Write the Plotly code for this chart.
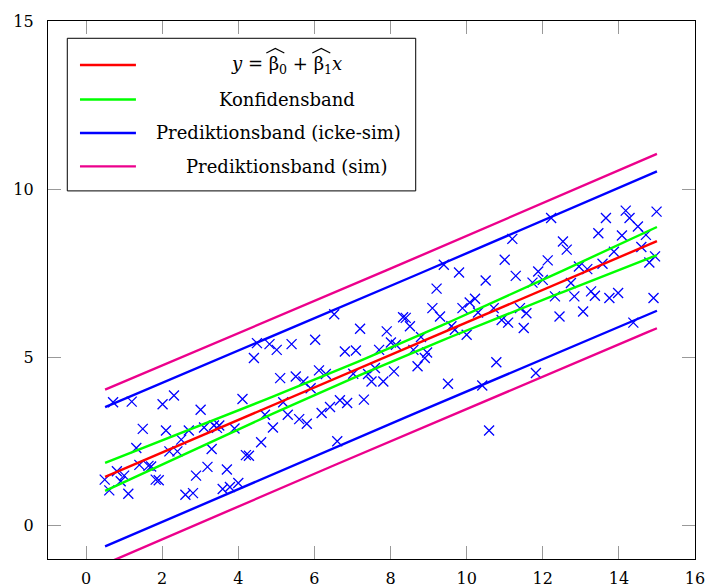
import numpy as np
import plotly.graph_objects as go

# ---- data ----
x_data = [0.71, 1.20, 2.01, 2.31, 4.11, 3.01, 1.49, 2.10, 2.70, 2.50, 3.10, 3.36, 3.50, 3.44, 3.90,
          1.32, 2.19, 2.40, 3.30, 4.20, 4.28, 1.40, 1.64, 1.71, 3.19, 3.70, 2.89, 0.49, 0.81, 1.00,
          0.91, 1.83, 1.91, 0.61, 1.11, 2.61, 2.81, 3.59, 3.78, 4.00, 6.52, 7.20, 7.90, 8.01, 8.33,
          8.40, 4.49, 4.82, 5.01, 5.40, 6.02, 4.41, 6.80, 7.09, 7.70, 5.10, 5.51, 5.71, 5.90, 6.12,
          6.30, 7.02, 7.41, 7.50, 7.81, 7.59, 8.09, 5.18, 4.70, 5.30, 5.60, 5.80, 4.91, 6.19, 6.41,
          6.67, 6.86, 7.30, 4.60, 6.60, 11.20, 11.00, 9.40, 9.80, 10.50, 11.29, 11.73, 11.88, 9.21,
          9.10, 9.30, 9.89, 10.08, 10.22, 10.30, 10.71, 11.40, 11.57, 8.51, 10.92, 11.09, 11.50,
          9.60, 9.69, 10.00, 8.80, 8.14, 8.60, 8.96, 8.90, 8.71, 10.78, 11.82, 9.51, 10.41, 10.59,
          12.22, 13.66, 14.18, 14.28, 14.50, 14.99, 13.46, 14.08, 14.71, 12.53, 12.63, 14.59, 13.87,
          12.13, 12.00, 12.95, 13.17, 13.57, 14.80, 14.95, 12.74, 12.32, 12.83, 13.27, 13.37, 13.75,
          13.98, 14.91, 12.44, 13.06, 14.38]
y_data = [3.66, 3.68, 3.60, 3.86, 3.76, 3.44, 2.87, 2.82, 2.82, 2.55, 2.91, 2.97, 2.97, 2.90, 2.88,
          2.30, 2.20, 2.20, 2.27, 2.09, 2.07, 1.80, 1.77, 1.75, 1.74, 1.66, 1.48, 1.36, 1.61, 1.48,
          1.31, 1.36, 1.34, 1.04, 0.94, 0.91, 0.96, 1.08, 1.14, 1.26, 6.28, 5.85, 5.77, 5.44, 6.19,
          6.17, 5.42, 5.39, 5.22, 5.39, 5.52, 4.98, 5.17, 5.20, 5.22, 4.38, 4.43, 4.28, 4.08, 4.61,
          4.50, 4.51, 4.50, 4.28, 4.28, 4.68, 4.58, 3.66, 3.29, 3.29, 3.16, 3.02, 2.91, 3.34, 3.52,
          3.72, 3.64, 3.74, 2.47, 2.50, 8.52, 7.90, 7.75, 7.52, 7.28, 7.42, 7.22, 7.55, 7.04,
          6.46, 6.21, 6.46, 6.63, 6.74, 6.33, 6.46, 6.46, 6.31, 5.92, 6.11, 6.03, 5.87,
          5.92, 5.82, 5.67, 5.60, 5.37, 5.22, 5.14, 4.98, 4.73, 4.85, 4.53, 4.21, 4.16, 2.82,
          9.14, 9.14, 9.36, 9.14, 8.89, 9.33, 8.69, 8.62, 8.64, 8.44, 8.20, 8.28, 8.14,
          7.88, 7.30, 7.70, 7.62, 7.78, 7.82, 8.00, 7.21, 6.81, 6.81, 6.96, 6.83, 6.76,
          6.91, 6.76, 6.21, 6.36, 6.03]

x_domain = [0.5, 15.0]          # domain on which the fitted curves are drawn
t_crit = 1.9766                 # pointwise 95% t quantile
w_crit = 2.473                  # simultaneous (Working-Hotelling) multiplier

legend_labels = ["<i>y</i> = β<sub>0</sub> + β<sub>1</sub><i>x</i>",
                 "Konfidensband", "Prediktionsband (icke-sim)", "Prediktionsband (sim)"]
x_ticks = [0, 2, 4, 6, 8, 10, 12, 14, 16]
y_ticks = [0, 5, 10, 15]

# ---- regression ----
xa = np.array(x_data); ya = np.array(y_data)
n = len(xa)
xm = xa.mean()
sxx = ((xa - xm) ** 2).sum()
b1 = ((xa - xm) * (ya - ya.mean())).sum() / sxx
b0 = ya.mean() - b1 * xm
res = ya - (b0 + b1 * xa)
s = np.sqrt((res ** 2).sum() / (n - 2))

xs = np.linspace(x_domain[0], x_domain[1], 60)
fit = b0 + b1 * xs
se_mean = s * np.sqrt(1 / n + (xs - xm) ** 2 / sxx)
se_pred = s * np.sqrt(1 + 1 / n + (xs - xm) ** 2 / sxx)

RED, GREEN, BLUE, MAG = "#ff0000", "#00ff00", "#0000ff", "#ec008c"
LW = 2.4
FONT = "DejaVu Serif"

fig = go.Figure()
fig.add_trace(go.Scatter(x=x_data, y=y_data, mode="markers",
                         marker=dict(symbol="x-thin", size=10, line=dict(color=BLUE, width=1.3)),
                         showlegend=False, hoverinfo="skip"))
curves = [
    (fit + w_crit * se_pred, MAG), (fit - w_crit * se_pred, MAG),
    (fit + t_crit * se_pred, BLUE), (fit - t_crit * se_pred, BLUE),
    (fit + w_crit * se_mean, GREEN), (fit - w_crit * se_mean, GREEN),
    (fit, RED),
]
for yy, c in curves:
    fig.add_trace(go.Scatter(x=xs, y=yy, mode="lines", line=dict(color=c, width=LW),
                             showlegend=False, hoverinfo="skip"))

# ---- manual legend (pgfplots style, centered text) ----
W, H = 709, 587
L, R, T, B = 48, 13.5, 21, 27.7
pw, ph = W - L - R, H - T - B
def px(xp): return (xp - L) / pw
def py(yp): return (H - B - yp) / ph

fig.add_shape(type="rect", xref="paper", yref="paper", x0=px(67.3), x1=px(416), y0=py(191), y1=py(38.3),
              line=dict(color="black", width=1), fillcolor="white", layer="above")
rows = [65, 99.5, 133, 166.5]
centers = [287, 287, 278.5, 287]
for lab, c, yr, cx in zip(legend_labels, [RED, GREEN, BLUE, MAG], rows, centers):
    fig.add_shape(type="line", xref="paper", yref="paper", x0=px(80), x1=px(136), y0=py(yr), y1=py(yr),
                  line=dict(color=c, width=LW), layer="above")
    fig.add_annotation(xref="paper", yref="paper", x=px(cx), y=py(yr), text=lab, showarrow=False,
                       xanchor="center", yanchor="middle", font=dict(family=FONT, size=18, color="black"))

# wide hats over the two betas in the formula
for hx in (275.5, 321.5):
    path = "M {} {} L {} {} L {} {}".format(px(hx - 9), py(53), px(hx), py(48.5), px(hx + 9), py(53))
    fig.add_shape(type="path", xref="paper", yref="paper", path=path,
                  line=dict(color="black", width=1.2), layer="above")

axis_common = dict(showgrid=False, zeroline=False, showline=True, linecolor="black", linewidth=1.3,
                   mirror="ticks", ticks="inside", ticklen=13, tickwidth=1, tickcolor="#999999",
                   automargin=False, tickfont=dict(family=FONT, size=16, color="black"))
fig.update_xaxes(range=[-1, 16], tickvals=x_ticks, ticktext=[str(v) for v in x_ticks],
                 ticklabelstandoff=5, **axis_common)
fig.update_yaxes(range=[-1, 15], tickvals=y_ticks, ticktext=[str(v) for v in y_ticks],
                 ticklabelstandoff=10, **axis_common)
fig.update_layout(width=W, height=H, margin=dict(l=L, r=R, t=T, b=B, pad=0, autoexpand=False),
                  plot_bgcolor="white", paper_bgcolor="white", showlegend=False,
                  font=dict(family=FONT))
fig.write_html("out.html")
